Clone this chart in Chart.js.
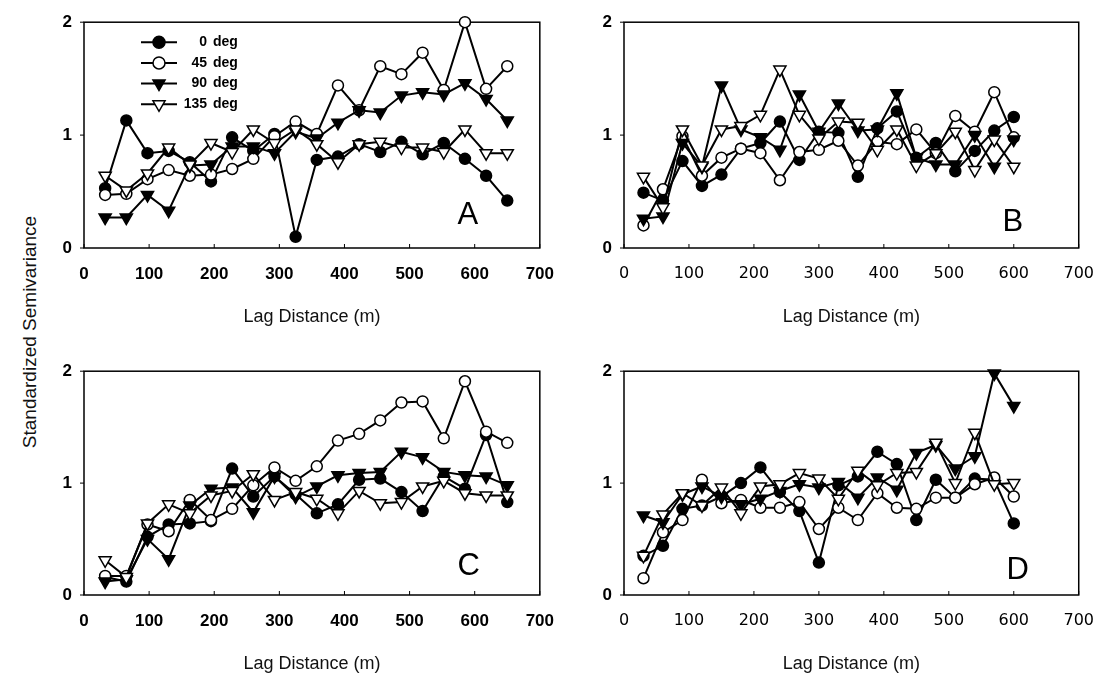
<!DOCTYPE html>
<html>
<head>
<meta charset="utf-8">
<script src="https://cdn.jsdelivr.net/npm/chart.js@4.4.1/dist/chart.umd.min.js"></script>
<style>
  html, body { margin: 0; padding: 0; background: #fff; }
  body { width: 1117px; height: 683px; position: relative; overflow: hidden;
         font-family: "Liberation Sans", Arial, sans-serif; }
  .panel { position: absolute; }
  #yTitle { position: absolute; left: 30px; top: 332px; transform: translate(-50%, -50%) rotate(-90deg);
            font-size: 19px; white-space: nowrap; color: #111; }
</style>
</head>
<body>
<div id="yTitle">Standardized Semivariance</div>
<div class="panel" style="left:40px; top:0px; width:530px; height:340px"><canvas id="cA"></canvas></div>
<div class="panel" style="left:580px; top:0px; width:530px; height:340px"><canvas id="cB"></canvas></div>
<div class="panel" style="left:40px; top:349px; width:530px; height:338px"><canvas id="cC"></canvas></div>
<div class="panel" style="left:580px; top:349px; width:530px; height:338px"><canvas id="cD"></canvas></div>

<script>
/* ================= DATA ================= */
const lagAC = [32.5, 65, 97.5, 130, 162.5, 195, 227.5, 260, 292.5, 325,
               357.5, 390, 422.5, 455, 487.5, 520, 552.5, 585, 617.5, 650];
const lagBD = [30, 60, 90, 120, 150, 180, 210, 240, 270, 300,
               330, 360, 390, 420, 450, 480, 510, 540, 570, 600];

const xTicks = [0, 100, 200, 300, 400, 500, 600, 700];
const yTicks = [0, 1, 2];
const dirNums = ["0", "45", "90", "135"];
const seriesLabels = ["0 deg", "45 deg", "90 deg", "135 deg"];

// panel A
const a0   = [0.53, 1.13, 0.84, 0.86, 0.76, 0.59, 0.98, 0.86, 1.01, 0.10, 0.78, 0.81, 0.92, 0.85, 0.94, 0.83, 0.93, 0.79, 0.64, 0.42];
const a45  = [0.47, 0.48, 0.61, 0.69, 0.64, 0.65, 0.70, 0.79, 0.99, 1.12, 1.01, 1.44, 1.22, 1.61, 1.54, 1.73, 1.40, 2.00, 1.41, 1.61];
const a90  = [0.27, 0.27, 0.47, 0.33, 0.73, 0.74, 0.90, 0.90, 0.84, 1.03, 0.97, 1.11, 1.22, 1.20, 1.35, 1.38, 1.36, 1.46, 1.32, 1.13];
const a135 = [0.64, 0.51, 0.66, 0.89, 0.74, 0.93, 0.85, 1.05, 0.93, 1.05, 0.92, 0.76, 0.92, 0.94, 0.89, 0.89, 0.85, 1.05, 0.84, 0.84];

// panel B
const b0   = [0.49, 0.42, 0.77, 0.55, 0.65, 0.88, 0.93, 1.12, 0.78, 1.03, 1.02, 0.63, 1.06, 1.21, 0.80, 0.93, 0.68, 0.86, 1.04, 1.16];
const b45  = [0.20, 0.52, 0.99, 0.64, 0.80, 0.88, 0.84, 0.60, 0.85, 0.87, 0.95, 0.73, 0.94, 0.92, 1.05, 0.84, 1.17, 1.03, 1.38, 0.98];
const b90  = [0.26, 0.28, 0.93, 0.72, 1.44, 1.05, 0.98, 0.87, 1.36, 1.03, 1.28, 1.04, 1.05, 1.37, 0.80, 0.74, 0.74, 1.00, 0.72, 0.96];
const b135 = [0.63, 0.36, 1.05, 0.73, 1.05, 1.08, 1.18, 1.58, 1.18, 0.97, 1.12, 1.11, 0.87, 1.05, 0.73, 0.84, 1.03, 0.69, 0.96, 0.72];

// panel C
const c0   = [0.16, 0.12, 0.52, 0.63, 0.64, 0.66, 1.13, 0.88, 1.06, 0.90, 0.73, 0.81, 1.03, 1.04, 0.92, 0.75, 1.06, 0.95, 1.43, 0.83];
const c45  = [0.17, 0.17, 0.63, 0.57, 0.85, 0.67, 0.77, 0.98, 1.14, 1.02, 1.15, 1.38, 1.44, 1.56, 1.72, 1.73, 1.40, 1.91, 1.46, 1.36];
const c90  = [0.12, 0.14, 0.50, 0.32, 0.80, 0.95, 0.96, 0.74, 1.06, 0.88, 0.97, 1.07, 1.09, 1.10, 1.28, 1.23, 1.10, 1.07, 1.06, 0.98];
const c135 = [0.31, 0.16, 0.64, 0.81, 0.73, 0.89, 0.93, 1.08, 0.85, 0.92, 0.86, 0.73, 0.93, 0.82, 0.83, 0.97, 1.02, 0.91, 0.89, 0.89];

// panel D
const d0   = [0.35, 0.44, 0.77, 0.80, 0.88, 1.00, 1.14, 0.92, 0.75, 0.29, 0.98, 1.06, 1.28, 1.17, 0.67, 1.03, 0.87, 1.04, 1.03, 0.64];
const d45  = [0.15, 0.56, 0.67, 1.03, 0.82, 0.85, 0.78, 0.78, 0.83, 0.59, 0.78, 0.67, 0.91, 0.78, 0.77, 0.87, 0.87, 0.99, 1.05, 0.88];
const d90  = [0.71, 0.65, 0.90, 0.97, 0.88, 0.81, 0.86, 0.93, 0.99, 0.96, 1.01, 0.87, 1.05, 0.94, 1.27, 1.34, 1.13, 1.24, 1.98, 1.69];
const d135 = [0.35, 0.72, 0.91, 0.80, 0.96, 0.73, 0.97, 0.99, 1.09, 1.04, 0.86, 1.11, 0.98, 1.09, 1.10, 1.36, 1.00, 1.45, 0.99, 1.00];

/* ================= STYLE ================= */
const marks = [
  { style: "circle",   rot: 0,   fill: "#000", r: 5.5 },
  { style: "circle",   rot: 0,   fill: "#fff", r: 5.5 },
  { style: "triangle", rot: 180, fill: "#000", r: 7 },
  { style: "triangle", rot: 180, fill: "#fff", r: 7 }
];

const FONT = '"Liberation Sans", Arial, sans-serif';

// later series sit on top, as in the original plot
function makeDatasets(lags, series) {
  return series.map((vals, i) => ({
    label: seriesLabels[i],
    data: vals.map((v, j) => ({ x: lags[j], y: v })),
    order: series.length - 1 - i,
    borderColor: "#000",
    borderWidth: 2,
    tension: 0,
    clip: false,
    pointStyle: marks[i].style,
    pointRotation: marks[i].rot,
    pointRadius: marks[i].r,
    pointBackgroundColor: marks[i].fill,
    pointBorderColor: "#000",
    pointBorderWidth: 1.5
  }));
}

/* frame, inner ticks and panel letter */
const framePlugin = {
  id: "frame",
  beforeDatasetsDraw(chart) {
    const { ctx, chartArea: a, scales: { x, y } } = chart;
    ctx.save();
    ctx.strokeStyle = "#000";
    ctx.lineWidth = 1.5;
    ctx.strokeRect(a.left, a.top, a.right - a.left, a.bottom - a.top);
    ctx.lineWidth = 1;
    xTicks.forEach(v => {
      const px = x.getPixelForValue(v);
      ctx.beginPath(); ctx.moveTo(px, a.bottom); ctx.lineTo(px, a.bottom - 4); ctx.stroke();
    });
    yTicks.forEach(v => {
      const py = y.getPixelForValue(v);
      ctx.beginPath(); ctx.moveTo(a.left - 4, py); ctx.lineTo(a.left, py); ctx.stroke();
    });
    ctx.restore();
  },
  afterDraw(chart, args, opts) {
    const { ctx, chartArea: a } = chart;
    ctx.save();
    ctx.fillStyle = "#000";
    ctx.font = "31px " + FONT;
    ctx.textAlign = "center";
    ctx.textBaseline = "middle";
    ctx.fillText(opts.letter, a.right - opts.dx, a.bottom - opts.dy);
    ctx.restore();
  }
};

function drawMark(ctx, m, x, y) {
  ctx.beginPath();
  if (m.style === "circle") {
    ctx.arc(x, y, m.r + 0.5, 0, Math.PI * 2);
  } else {
    const r = m.r;
    ctx.moveTo(x - r * 0.866, y - r * 0.5);
    ctx.lineTo(x + r * 0.866, y - r * 0.5);
    ctx.lineTo(x, y + r);
    ctx.closePath();
  }
  ctx.fillStyle = m.fill;
  ctx.fill();
  ctx.lineWidth = 1.5;
  ctx.strokeStyle = "#000";
  ctx.stroke();
}

/* legend inside panel A */
const legendPlugin = {
  id: "innerLegend",
  afterDraw(chart) {
    const { ctx, chartArea: a } = chart;
    ctx.save();
    ctx.font = "bold 14px " + FONT;
    ctx.textBaseline = "middle";
    dirNums.forEach((n, i) => {
      const y = a.top + 20 + i * 20.7;
      ctx.strokeStyle = "#000";
      ctx.lineWidth = 2;
      ctx.beginPath(); ctx.moveTo(a.left + 57, y); ctx.lineTo(a.left + 93, y); ctx.stroke();
      drawMark(ctx, marks[i], a.left + 75, y);
      ctx.fillStyle = "#000";
      ctx.textAlign = "right";
      ctx.fillText(n, a.left + 123, y);
      ctx.textAlign = "left";
      ctx.fillText("deg", a.left + 129, y);
    });
    ctx.restore();
  }
};

function makeOptions(letter, dx, dy, xTickFont) {
  return {
    responsive: true,
    maintainAspectRatio: false,
    animation: false,
    layout: { padding: { left: 0, right: 25, top: 16, bottom: 0 } },
    plugins: {
      legend: { display: false },
      tooltip: { enabled: false },
      frame: { letter, dx, dy }
    },
    scales: {
      x: {
        type: "linear", min: 0, max: 700,
        afterFit: s => { s.height = 92; },
        afterBuildTicks: s => { s.ticks = xTicks.map(v => ({ value: v })); },
        grid: { display: false, drawTicks: false },
        border: { display: false },
        ticks: { padding: 16, color: "#000", font: xTickFont, callback: v => String(v), maxRotation: 0 },
        title: { display: true, text: "Lag Distance (m)", color: "#111",
                 font: { family: FONT, size: 18 }, padding: { top: 0, bottom: 12 } }
      },
      y: {
        min: 0, max: 2,
        afterFit: s => { s.width = 44; },
        afterBuildTicks: s => { s.ticks = yTicks.map(v => ({ value: v })); },
        grid: { display: false, drawTicks: false },
        border: { display: false },
        ticks: { padding: 12, color: "#000", font: { family: FONT, size: 17, weight: "bold" }, callback: v => String(v) }
      }
    }
  };
}

const boldTick  = { family: FONT, size: 17, weight: "bold" };
const roundTick = { family: '"DejaVu Sans", sans-serif', size: 16 };

new Chart(document.getElementById("cA"), {
  type: "line",
  data: { datasets: makeDatasets(lagAC, [a0, a45, a90, a135]) },
  options: makeOptions("A", 72, 33, boldTick),
  plugins: [framePlugin, legendPlugin]
});

new Chart(document.getElementById("cB"), {
  type: "line",
  data: { datasets: makeDatasets(lagBD, [b0, b45, b90, b135]) },
  options: makeOptions("B", 66, 26, roundTick),
  plugins: [framePlugin]
});

new Chart(document.getElementById("cC"), {
  type: "line",
  data: { datasets: makeDatasets(lagAC, [c0, c45, c90, c135]) },
  options: makeOptions("C", 71, 29, boldTick),
  plugins: [framePlugin]
});

new Chart(document.getElementById("cD"), {
  type: "line",
  data: { datasets: makeDatasets(lagBD, [d0, d45, d90, d135]) },
  options: makeOptions("D", 61, 25, roundTick),
  plugins: [framePlugin]
});
</script>
</body>
</html>
